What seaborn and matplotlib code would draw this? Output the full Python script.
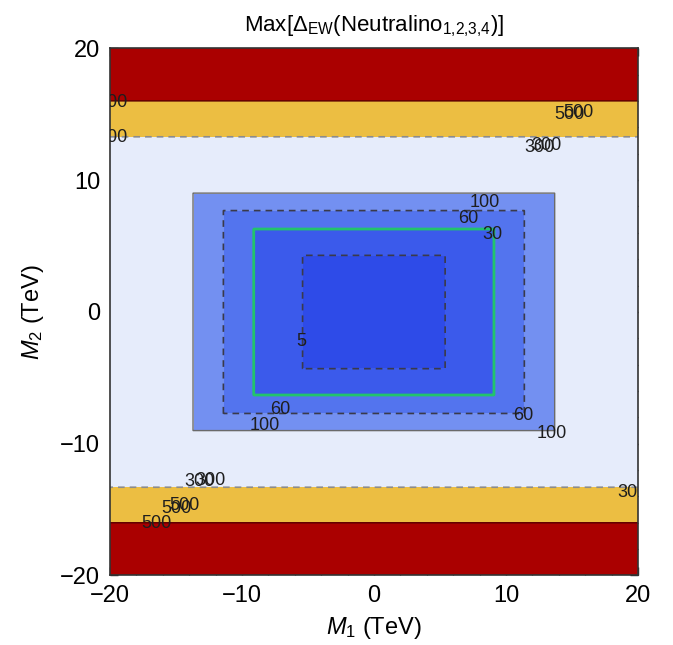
import numpy as np
import matplotlib
matplotlib.use('Agg')
import matplotlib.pyplot as plt
import seaborn as sns
from matplotlib.ticker import MultipleLocator

# contour levels of Max[Delta_EW] and the box each one draws (half widths, TeV)
levels = [5, 30, 60, 100, 300, 500]
half_m1 = [5.4, 9.1, 11.4, 13.7, 99.0, 99.0]   # 99 -> band runs over the full M1 range
half_m2 = [4.3, 6.3, 7.7, 9.0, 13.3, 16.0]

fill_colors = ['#2e4be8', '#3b5aeb', '#5374ee', '#7390f1', '#e6ecfb', '#ecbe42', '#aa0000']
line_colors = ['#3a3a4a', '#22c46c', '#3a3a4a', '#6a6a6a', '#8c8c8c', '#5a0000']
line_styles = [(0, (4, 3)), 'solid', (0, (4, 3)), 'solid', (0, (4, 3)), 'solid']
line_widths = [1.2, 2.0, 1.2, 1.0, 1.2, 1.0]

# contour labels as Mathematica placed them
label_text = ['5', '30', '60', '100', '60', '100', '60', '100',
              '500', '300', '500', '500', '300', '300',
              '300', '300', '500', '500', '500', '300']
label_m1 = [-5.5, 9.0, 7.15, 8.4, -7.1, -8.25, 11.3, 13.45,
            -19.85, -19.85, 14.8, 15.5, 12.5, 13.1,
            -13.2, -12.4, -15.0, -14.4, -16.45, 19.6]
label_m2 = [-2.25, 5.85, 7.05, 8.3, -7.4, -8.6, -7.9, -9.2,
            15.9, 13.2, 14.95, 15.1, 12.5, 12.6,
            -12.9, -12.8, -14.9, -14.7, -16.1, -13.7]

sns.set_style('ticks')
plt.rcParams['font.family'] = ['Liberation Sans', 'DejaVu Sans']
plt.rcParams['mathtext.fontset'] = 'custom'
plt.rcParams['mathtext.rm'] = 'Liberation Sans'
plt.rcParams['mathtext.it'] = 'Liberation Sans:italic'
plt.rcParams['text.color'] = 'black'
plt.rcParams['axes.labelcolor'] = 'black'
plt.rcParams['xtick.labelcolor'] = 'black'
plt.rcParams['ytick.labelcolor'] = 'black'

grid = np.linspace(-20, 20, 1601)
M1, M2 = np.meshgrid(grid, grid)
# how many boxes the point lies outside of -> band index
Z = np.zeros_like(M1)
for a, b in zip(half_m1, half_m2):
    Z += ((np.abs(M1) > a) | (np.abs(M2) > b)).astype(float)

fig = plt.figure(figsize=(6.73, 6.45), dpi=100)
ax = fig.add_axes([0.1635, 0.108, 0.7845, 0.817])

ax.contourf(M1, M2, Z, levels=np.arange(-0.5, len(levels) + 1), colors=fill_colors)
ax.contour(M1, M2, Z, levels=np.arange(0.5, len(levels)), colors=line_colors,
           linestyles=line_styles, linewidths=line_widths)

for t, x, y in zip(label_text, label_m1, label_m2):
    ax.text(x, y, t, fontsize=13, color='#1e1e1e', ha='center', va='center', clip_on=True)

ax.set_xlim(-20, 20)
ax.set_ylim(-20, 20)
ax.xaxis.set_major_locator(MultipleLocator(10))
ax.yaxis.set_major_locator(MultipleLocator(10))
ax.xaxis.set_minor_locator(MultipleLocator(2))
ax.yaxis.set_minor_locator(MultipleLocator(2))
ax.tick_params(which='both', direction='in', top=True, right=True, labelsize=17, color='#222222')
ax.tick_params(which='major', length=6, width=1.0)
ax.tick_params(which='minor', length=3.5, width=0.8)
ax.tick_params(axis='x', pad=7)
ax.tick_params(axis='y', pad=7)
for s in ax.spines.values():
    s.set_color('#333333')
    s.set_linewidth(1.2)

ax.set_xlabel(r'$M_1$ (TeV)', fontsize=17, labelpad=6)
ax.set_ylabel(r'$M_2$ (TeV)', fontsize=17, labelpad=10)
ax.set_title(r'Max[$\Delta_{\rm EW}$(Neutralino$_{1{,}2{,}3{,}4}$)]', fontsize=16, pad=12)

fig.savefig('out.png', dpi=100)
